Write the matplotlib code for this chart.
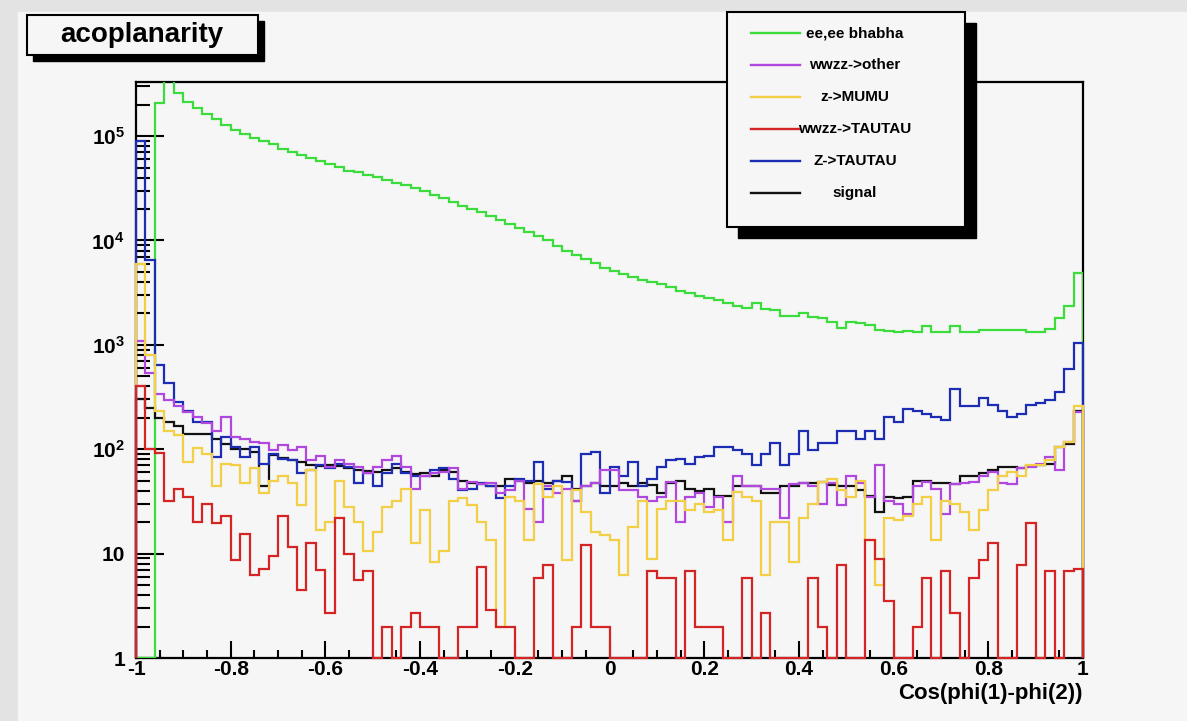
import numpy as np
import matplotlib.pyplot as plt
from matplotlib.patches import Rectangle
from matplotlib.lines import Line2D
from matplotlib.ticker import FixedLocator, FixedFormatter, LogLocator, MultipleLocator, NullFormatter

plt.rcParams['font.family'] = ['Liberation Sans', 'DejaVu Sans']
plt.rcParams['font.weight'] = 'bold'
plt.rcParams['mathtext.fontset'] = 'custom'
plt.rcParams['mathtext.rm'] = 'Liberation Sans:bold'
plt.rcParams['mathtext.it'] = 'Liberation Sans:bold'

# 100 bins in cos(phi1 - phi2), -1 .. 1
edges = np.linspace(-1, 1, 101)

bhabha = [0, 0, 209000, 400000, 257000, 214000, 186000, 162000, 145000, 129000,
          115000, 105000, 95500, 89100, 83200, 75900, 70800, 66100, 61700, 57500,
          53700, 50100, 46800, 45700, 42700, 40700, 38000, 35500, 33900, 31600,
          29500, 27500, 25700, 23400, 21400, 20000, 18600, 17000, 15800, 14500,
          13200, 12000, 11000, 10000, 8910, 7940, 7240, 6610, 6030, 5500,
          5130, 4790, 4470, 4170, 3980, 3800, 3550, 3310, 3160, 2950,
          2820, 2690, 2510, 2340, 2240, 2510, 2190, 2140, 1900, 1900,
          2040, 1860, 1820, 1660, 1450, 1660, 1620, 1550, 1380, 1350,
          1320, 1350, 1320, 1510, 1320, 1320, 1510, 1320, 1320, 1380,
          1380, 1380, 1380, 1380, 1320, 1320, 1410, 1820, 2340, 4900]

wwzz_other = [1100, 540, 339, 295, 257, 229, 204, 178, 151, 204,
              132, 126, 117, 115, 98, 110, 98, 105, 79, 87,
              68, 79, 72, 68, 59, 68, 79, 87, 68, 42,
              56, 59, 60, 66, 42, 49, 46, 47, 38, 41,
              50, 27, 20, 44, 38, 42, 32, 44, 47, 63,
              63, 41, 41, 35, 32, 35, 49, 20, 35, 38,
              28, 35, 20, 56, 44, 44, 42, 42, 22, 46,
              47, 44, 30, 47, 29, 56, 47, 35, 71, 32,
              30, 24, 44, 49, 42, 24, 46, 47, 49, 56,
              60, 47, 46, 66, 68, 72, 85, 63, 117, 229]

z_mumu = [6000, 800, 234, 151, 138, 76, 102, 91, 44, 72,
          71, 47, 66, 38, 50, 55, 47, 29, 63, 17,
          20, 50, 28, 20, 10.5, 16, 28, 32, 42, 12.6,
          26, 8.3, 10.7, 32, 34, 29, 20, 13.5, 2, 35,
          32, 13.5, 46, 35, 44, 8.7, 41, 25, 16, 15,
          13.5, 6.2, 18, 32, 8.9, 27, 32, 32, 26, 30,
          25, 26, 13.5, 39, 35, 32, 6.2, 20, 20, 8.3,
          22, 30, 49, 52, 41, 35, 50, 13.5, 5, 22,
          21, 23, 30, 35, 13.5, 32, 30, 25, 17, 26,
          41, 55, 60, 55, 71, 71, 79, 105, 117, 257]

wwzz_tautau = [400, 100, 92, 32, 42, 35, 20, 30, 19.5, 23,
               8.7, 15.5, 6.2, 7.2, 9.5, 23, 11.7, 4.5, 12.6, 6.9,
               2.7, 22, 10, 5.6, 6.8, 0, 2, 0, 2, 2.7,
               2, 2, 0, 0, 2, 2, 7.4, 2.9, 2, 2,
               0, 0, 5.8, 7.8, 0, 0, 2, 12, 2, 2,
               0, 0, 0, 0, 6.8, 5.8, 5.8, 0, 6.8, 2,
               2, 2, 0, 0, 5.8, 0, 2.7, 0, 0, 0,
               0, 5.8, 2, 0, 7.8, 0, 0, 13.5, 8.9, 3.5,
               0, 0, 2, 5.8, 0, 6.8, 2.7, 0, 5.8, 8.7,
               12.6, 0, 0, 7.8, 19.5, 0, 6.8, 0, 6.8, 7.2]

z_tautau = [90000, 6500, 646, 427, 282, 234, 182, 182, 85, 132,
            105, 85, 105, 72, 91, 81, 79, 59, 63, 71,
            66, 72, 68, 47, 59, 44, 59, 72, 59, 56,
            55, 63, 66, 52, 41, 42, 47, 44, 34, 44,
            52, 50, 76, 42, 50, 49, 32, 91, 95, 38,
            68, 55, 76, 44, 52, 68, 79, 81, 72, 85,
            87, 105, 105, 98, 91, 71, 91, 115, 71, 91,
            151, 98, 115, 115, 148, 151, 126, 151, 126, 204,
            182, 245, 234, 219, 204, 191, 380, 257, 257, 309,
            263, 234, 204, 219, 263, 275, 295, 355, 589, 1050]

signal = [300, 250, 200, 182, 166, 141, 141, 141, 126, 112,
          100, 100, 95, 44, 89, 83, 79, 76, 71, 69,
          71, 69, 66, 63, 62, 60, 63, 66, 60, 58,
          59, 56, 63, 60, 50, 48, 46, 44, 44, 52,
          50, 48, 50, 48, 50, 56, 42, 44, 47, 44,
          44, 47, 44, 48, 45, 38, 48, 50, 42, 40,
          42, 36, 36, 44, 44, 44, 38, 38, 44, 44,
          47, 48, 49, 45, 44, 44, 41, 36, 25, 35,
          34, 35, 50, 50, 47, 47, 46, 55, 56, 59,
          63, 68, 68, 66, 69, 71, 72, 105, 112, 234]

labels = ['ee,ee bhabha', 'wwzz->other', 'z->MUMU', 'wwzz->TAUTAU', 'Z->TAUTAU', 'signal']
colors = ['#3ddc3d', '#b048e0', '#f2cf45', '#d42424', '#1c2db4', '#111111']
series = [bhabha, wwzz_other, z_mumu, wwzz_tautau, z_tautau, signal]
draw_order = [0, 5, 4, 1, 2, 3]

x_ticks = [-1, -0.8, -0.6, -0.4, -0.2, 0, 0.2, 0.4, 0.6, 0.8, 1]
x_tick_labels = ['-1', '-0.8', '-0.6', '-0.4', '-0.2', '0', '0.2', '0.4', '0.6', '0.8', '1']
y_ticks = [1, 10, 100, 1e3, 1e4, 1e5]
y_tick_labels = ['1', '10', r'$10^{2}$', r'$10^{3}$', r'$10^{4}$', r'$10^{5}$']

W, H = 1187, 721
bg = '#f6f6f6'


def fx(px):
    return px / W


def fy(py):
    return 1 - py / H


fig = plt.figure(figsize=(W / 100, H / 100), dpi=100, facecolor='#e3e3e3')
fig.add_artist(Rectangle((fx(18), 0), 1 - fx(18), fy(12), transform=fig.transFigure,
                         color=bg, zorder=-1))

ax = fig.add_axes([fx(136), fy(658), fx(1083) - fx(136), fy(82) - fy(658)])
ax.set_facecolor(bg)

for i in draw_order:
    vals = np.clip(np.array(series[i], dtype=float), 1, None)
    ax.stairs(vals, edges, baseline=1, color=colors[i], lw=1.6, zorder=3,
              clip_on=(i == 0))

ax.set_xlim(-1, 1)
ax.set_yscale('log')
ax.set_ylim(1, 3.3e5)

ax.xaxis.set_major_locator(FixedLocator(x_ticks))
ax.xaxis.set_major_formatter(FixedFormatter(x_tick_labels))
ax.xaxis.set_minor_locator(MultipleLocator(0.05))
ax.yaxis.set_major_locator(FixedLocator(y_ticks))
ax.yaxis.set_major_formatter(FixedFormatter(y_tick_labels))
ax.yaxis.set_minor_locator(LogLocator(base=10, subs=range(2, 10), numticks=20))
ax.yaxis.set_minor_formatter(NullFormatter())

ax.tick_params(which='both', direction='in', top=False, right=False, width=1.5,
               labelsize=15)
ax.tick_params(axis='x', which='major', length=12, pad=1.5)
ax.tick_params(axis='x', which='minor', length=6)
ax.tick_params(axis='y', which='major', length=20, pad=8)
ax.tick_params(axis='y', which='minor', length=10)
for s in ax.spines.values():
    s.set_linewidth(1.6)

fig.text(fx(1083), fy(683), 'Cos(phi(1)-phi(2))', ha='right', va='top', fontsize=16)

# title box with shadow
fig.add_artist(Rectangle((fx(33), fy(61)), fx(231), 40 / H, transform=fig.transFigure,
                         color='black', zorder=4))
fig.add_artist(Rectangle((fx(27), fy(55)), fx(231), 40 / H, transform=fig.transFigure,
                         facecolor=bg, edgecolor='black', lw=1.5, zorder=5))
fig.text(fx(142), fy(35), 'acoplanarity', ha='center', va='center', fontsize=20, zorder=6)

# legend box with shadow
fig.add_artist(Rectangle((fx(738), fy(238)), fx(238), 215 / H, transform=fig.transFigure,
                         color='black', zorder=4))
fig.add_artist(Rectangle((fx(727), fy(227)), fx(238), 215 / H, transform=fig.transFigure,
                         facecolor=bg, edgecolor='black', lw=1.5, zorder=5))
for k, (lab, col) in enumerate(zip(labels, colors)):
    yy = fy(33 + 32 * k)
    fig.add_artist(Line2D([fx(751), fx(800)], [yy, yy], transform=fig.transFigure,
                          color=col, lw=1.7, zorder=6))
    fig.text(fx(855), yy, lab, ha='center', va='center', fontsize=11, zorder=7)

fig.savefig('out.png', dpi=100, facecolor=fig.get_facecolor())
